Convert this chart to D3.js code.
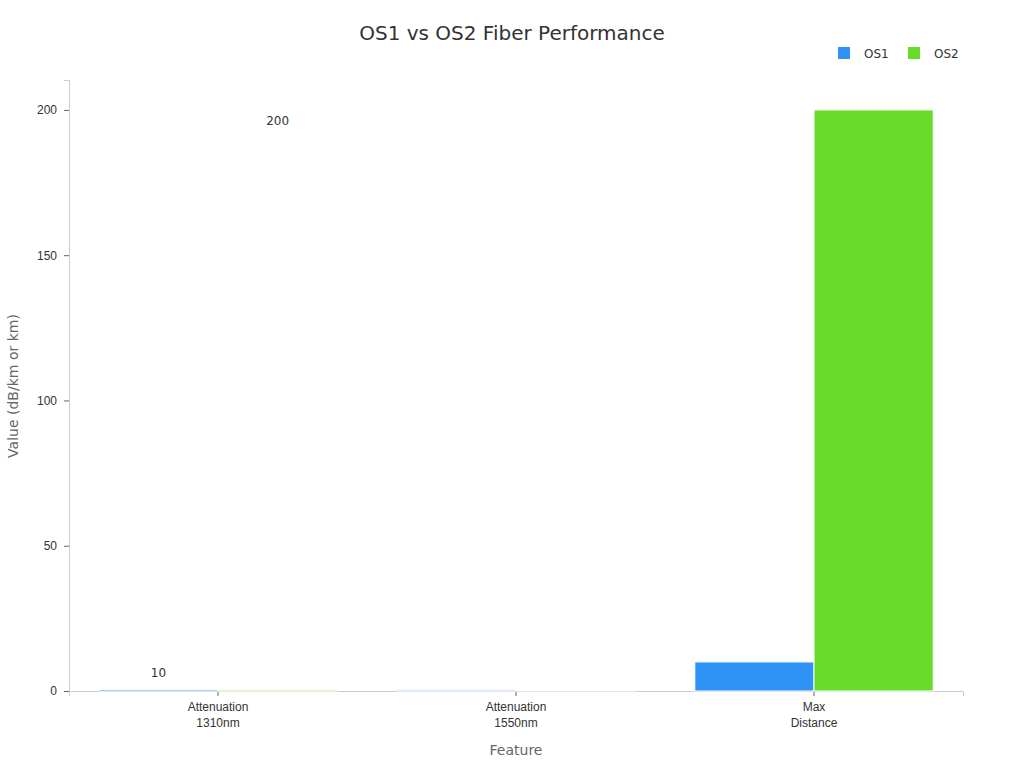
<!DOCTYPE html>
<html><head><meta charset="utf-8">
<script src="https://cdn.jsdelivr.net/npm/d3@7"></script>
<style>body{margin:0;background:#fff;font-family:"DejaVu Sans",sans-serif;}</style>
</head><body>
<script>
// data
var features = [["Attenuation", "1310nm"], ["Attenuation", "1550nm"], ["Max", "Distance"]];
var seriesNames = ["OS1", "OS2"];
var os1Values = [0.5, 0.4, 10];
var os2Values = [0.4, 0.3, 200];
var yTicks = [0, 50, 100, 150, 200];
var colors = ["#2f93f6", "#67db28"];

var w = 1024, h = 768;
var m = {left: 69, right: 61, top: 80, bottom: 77};

var svg = d3.select('body').append('svg').attr('width', w).attr('height', h);

var x = d3.scaleBand().domain(d3.range(features.length)).range([m.left, w - m.right]).paddingInner(0.2).paddingOuter(0.1);
var x1 = d3.scaleBand().domain(seriesNames).range([0, x.bandwidth()]);
var y = d3.scaleLinear().domain([0, 210.3]).range([h - m.bottom, m.top]);

// title
svg.append('text').attr('x', 512).attr('y', 40).attr('text-anchor', 'middle')
  .style('font-size', '20px').style('fill', '#333').text('OS1 vs OS2 Fiber Performance');

// legend
seriesNames.forEach(function(s, i) {
  var lx = 838 + i * 70;
  svg.append('rect').attr('x', lx).attr('y', 47).attr('width', 12).attr('height', 12).attr('fill', colors[i]);
  svg.append('text').attr('x', lx + 26).attr('y', 58).style('font-size', '12px').style('fill', '#333').text(s);
});

// axes
var yAxis = svg.append('g').attr('transform', 'translate(' + m.left + ',0)')
  .call(d3.axisLeft(y).tickValues(yTicks).tickSize(5));
yAxis.select('.domain').attr('stroke', '#ccc');
yAxis.selectAll('.tick line').attr('stroke', '#666');
yAxis.selectAll('text').style('font-size', '12px').style('fill', '#333').attr('dx', '-4');

var xAxis = svg.append('g').attr('transform', 'translate(0,' + (h - m.bottom) + ')')
  .call(d3.axisBottom(x).tickSize(5).tickFormat(''));
xAxis.select('.domain').attr('stroke', '#ccc');
xAxis.selectAll('.tick line').attr('stroke', '#666');
xAxis.selectAll('.tick').each(function(d) {
  var t = d3.select(this).append('text').attr('text-anchor', 'middle').style('font-size', '12px').style('fill', '#333');
  t.append('tspan').attr('x', 0).attr('y', 20).text(features[d][0]);
  t.append('tspan').attr('x', 0).attr('y', 36).text(features[d][1]);
});

svg.append('text').attr('x', 516).attr('y', 755).attr('text-anchor', 'middle')
  .style('font-size', '14px').style('fill', '#666').text('Feature');
svg.append('text').attr('transform', 'translate(18,386) rotate(-90)').attr('text-anchor', 'middle')
  .style('font-size', '14px').style('fill', '#666').text('Value (dB/km or km)');

// bars
var allSeries = [os1Values, os2Values];
allSeries.forEach(function(vals, si) {
  var g = svg.append('g');
  g.selectAll('rect').data(vals).enter().append('rect')
    .attr('x', function(d, i) { return x(i) + x1(seriesNames[si]); })
    .attr('y', function(d) { return y(d); })
    .attr('width', x1.bandwidth())
    .attr('height', function(d) { return y(0) - y(d); })
    .attr('fill', colors[si]).attr('stroke', '#fff').attr('stroke-width', 1);
  g.selectAll('text').data(vals).enter().filter(function(d) { return d >= 5; }).append('text')
    .attr('x', function(d, i) { return x(i) + x1(seriesNames[si]) + x1.bandwidth() / 2; })
    .attr('y', function(d) { return y(d) + 15; })
    .attr('text-anchor', 'middle').style('font-size', '12px').style('fill', '#333')
    .text(function(d) { return d; });
});
</script>
</body></html>
